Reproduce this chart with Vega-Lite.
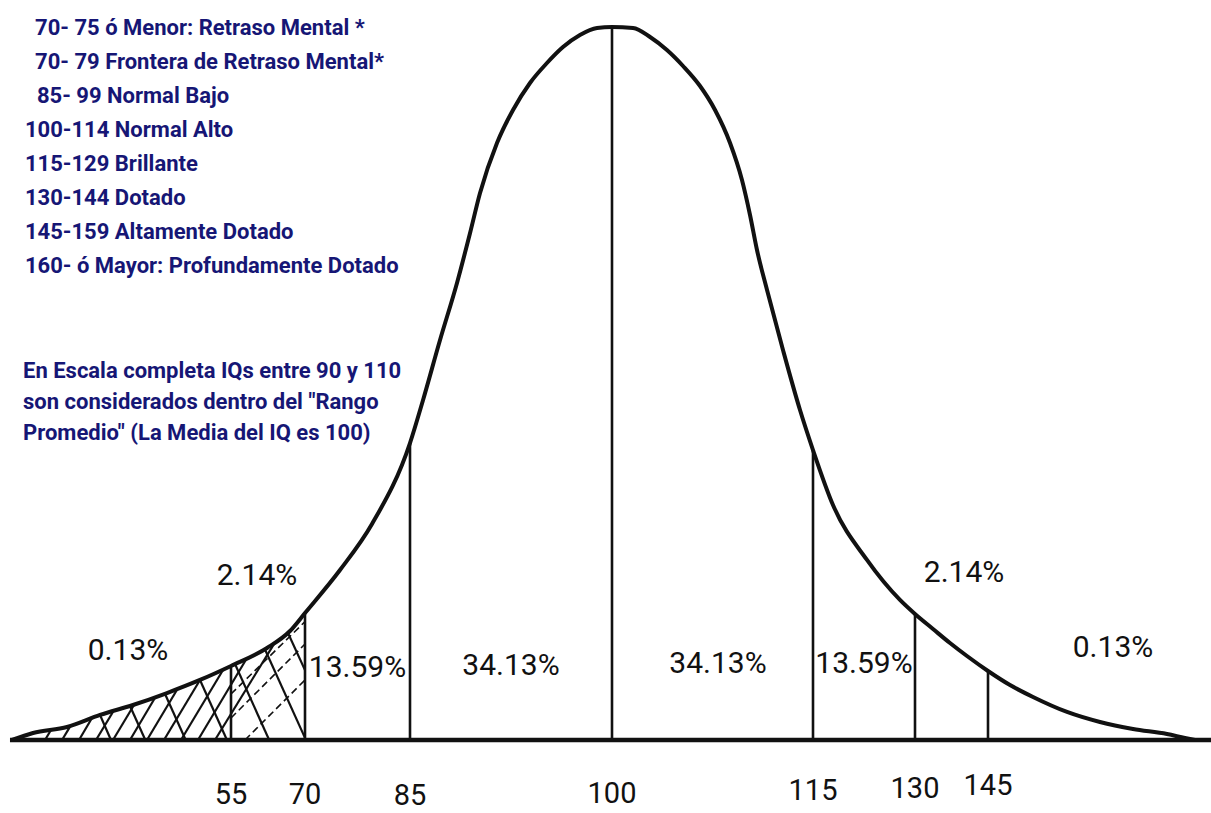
{
  "$schema": "https://vega.github.io/schema/vega-lite/v6.json",
  "width": 1211,
  "height": 813,
  "autosize": {"type": "none"},
  "padding": 0,
  "background": "white",
  "config": {"view": {"stroke": null}},
  "datasets": {
    "curva": [
      {"iq": 30, "h": 0}, {"iq": 32.4, "h": 0.98}, {"iq": 36.28, "h": 1.82}, {"iq": 40.05, "h": 3.51},
      {"iq": 43.81, "h": 4.91}, {"iq": 47.69, "h": 6.59}, {"iq": 51.46, "h": 8.42}, {"iq": 55, "h": 10.38},
      {"iq": 62.3, "h": 12.9}, {"iq": 66.96, "h": 15.29}, {"iq": 70, "h": 17.81}, {"iq": 75, "h": 23.84},
      {"iq": 79.57, "h": 30.29}, {"iq": 85, "h": 41.65}, {"iq": 85.97, "h": 47.69}, {"iq": 87.23, "h": 56.1},
      {"iq": 88.49, "h": 64.1}, {"iq": 89.46, "h": 71.11}, {"iq": 90.2, "h": 76.72}, {"iq": 91.46, "h": 83.73},
      {"iq": 92.65, "h": 88.36}, {"iq": 93.91, "h": 92.15}, {"iq": 95.17, "h": 94.95}, {"iq": 96.36, "h": 97.19},
      {"iq": 97.62, "h": 98.88}, {"iq": 98.89, "h": 99.86}, {"iq": 100, "h": 100},
      {"iq": 101.57, "h": 99.86}, {"iq": 102.84, "h": 98.6}, {"iq": 104.1, "h": 96.77}, {"iq": 105.3, "h": 94.53},
      {"iq": 106.57, "h": 91.72}, {"iq": 107.69, "h": 88.36}, {"iq": 108.81, "h": 83.73}, {"iq": 109.7, "h": 78.54},
      {"iq": 110.3, "h": 73.63}, {"iq": 110.82, "h": 68.72}, {"iq": 111.57, "h": 63.11}, {"iq": 112.76, "h": 54.7},
      {"iq": 114.03, "h": 46.28}, {"iq": 115, "h": 40.67}, {"iq": 117.94, "h": 32.96}, {"iq": 122.94, "h": 25.25},
      {"iq": 127.79, "h": 19.64}, {"iq": 130, "h": 17.67}, {"iq": 133.7, "h": 15.57}, {"iq": 137.19, "h": 13.6},
      {"iq": 140.68, "h": 11.78}, {"iq": 145, "h": 9.68}, {"iq": 147.72, "h": 7.71}, {"iq": 150.57, "h": 6.03},
      {"iq": 154.78, "h": 3.93}, {"iq": 158.86, "h": 2.52}, {"iq": 162.95, "h": 1.54}, {"iq": 167.15, "h": 0.84},
      {"iq": 169.38, "h": 0.28}, {"iq": 170.62, "h": 0}
    ],
    "divisiones": [
      {"iq": 55, "b": 0, "h": 10.38}, {"iq": 70, "b": 0, "h": 17.81}, {"iq": 85, "b": 0, "h": 41.65}, {"iq": 100, "b": 0, "h": 100},
      {"iq": 115, "b": 0, "h": 40.67}, {"iq": 130, "b": 0, "h": 17.67}, {"iq": 145, "b": 0, "h": 9.68}
    ],
    "base": [{"x0": 29.77, "x1": 172.6, "y": 0}],
    "tramaA": [
      {"x0": 33.77, "y0": 0, "x1": 34.45, "y1": 1.4},
      {"x0": 35.71, "y0": 0, "x1": 36.68, "y1": 1.99},
      {"x0": 37.65, "y0": 0, "x1": 39.13, "y1": 3.09},
      {"x0": 39.59, "y0": 0, "x1": 41.59, "y1": 4.07},
      {"x0": 41.53, "y0": 0, "x1": 43.93, "y1": 4.91},
      {"x0": 43.47, "y0": 0, "x1": 46.38, "y1": 6.03},
      {"x0": 45.41, "y0": 0, "x1": 48.89, "y1": 7.15},
      {"x0": 47.35, "y0": 0, "x1": 51.46, "y1": 8.42},
      {"x0": 49.29, "y0": 0, "x1": 54.09, "y1": 9.82},
      {"x0": 51.23, "y0": 0, "x1": 58.24, "y1": 11.5},
      {"x0": 53.17, "y0": 0, "x1": 63.92, "y1": 13.7}
    ],
    "tramaB": [
      {"x0": 40.05, "y0": 3.51, "x1": 41.3, "y1": 0},
      {"x0": 43.47, "y0": 4.77, "x1": 45.22, "y1": 0},
      {"x0": 47.47, "y0": 6.45, "x1": 49.83, "y1": 0},
      {"x0": 51.46, "y0": 8.42, "x1": 54.54, "y1": 0},
      {"x0": 55.81, "y0": 10.66, "x1": 62.74, "y1": 0},
      {"x0": 61.89, "y0": 12.7, "x1": 70, "y1": 0.3},
      {"x0": 66.55, "y0": 15.0, "x1": 70, "y1": 9.8}
    ],
    "tramaC": [
      {"x0": 57.84, "y0": 0, "x1": 70, "y1": 8.42},
      {"x0": 55, "y0": 3.09, "x1": 70, "y1": 13.46},
      {"x0": 55, "y0": 6.45, "x1": 70, "y1": 16.6}
    ],
    "marcas": [
      {"iq": 55, "y": -8.98, "t": "55"},
      {"iq": 70, "y": -8.98, "t": "70"},
      {"iq": 85, "y": -9.1, "t": "85"},
      {"iq": 100, "y": -8.9, "t": "100"},
      {"iq": 115, "y": -8.42, "t": "115"},
      {"iq": 130, "y": -8.13, "t": "130"},
      {"iq": 145, "y": -7.71, "t": "145"}
    ],
    "porcentajes": [
      {"x": 43.24, "y": 11.22, "t": "0.13%"},
      {"x": 60.27, "y": 21.74, "t": "2.14%"},
      {"x": 77.5, "y": 8.84, "t": "13.59%"},
      {"x": 92.5, "y": 9.12, "t": "34.13%"},
      {"x": 107.91, "y": 9.4, "t": "34.13%"},
      {"x": 122.5, "y": 9.4, "t": "13.59%"},
      {"x": 140.07, "y": 22.16, "t": "2.14%"},
      {"x": 160.47, "y": 11.64, "t": "0.13%"}
    ],
    "leyenda": [
      {"x": 32.63, "y": 98.88, "t": "70-  75 ó Menor: Retraso Mental *"},
      {"x": 32.63, "y": 94.11, "t": "70-  79 Frontera de Retraso Mental*"},
      {"x": 32.85, "y": 89.34, "t": "85-  99 Normal Bajo"},
      {"x": 31.48, "y": 84.57, "t": "100-114 Normal Alto"},
      {"x": 31.48, "y": 79.8, "t": "115-129 Brillante"},
      {"x": 31.48, "y": 75.04, "t": "130-144 Dotado"},
      {"x": 31.48, "y": 70.27, "t": "145-159 Altamente Dotado"},
      {"x": 31.48, "y": 65.5, "t": "160- ó Mayor: Profundamente Dotado"},
      {"x": 31.26, "y": 50.77, "t": "En Escala completa IQs entre 90 y 110"},
      {"x": 31.26, "y": 46.42, "t": "son considerados dentro del \"Rango"},
      {"x": 31.26, "y": 42.08, "t": "Promedio\" (La Media del IQ es 100)"}
    ]
  },
  "layer": [
    {
      "data": {"name": "curva"},
      "mark": {"type": "line", "color": "#111111", "strokeWidth": 4, "interpolate": "monotone"},
      "encoding": {
        "x": {"field": "iq", "type": "quantitative",
          "scale": {"type": "linear", "domain": [30, 55, 70, 85, 100, 115, 130, 145, 170], "range": [12, 231, 305, 410, 612, 813, 915, 988, 1190], "nice": false, "zero": false},
          "axis": null},
        "y": {"field": "h", "type": "quantitative", "scale": {"type": "linear", "domain": [0, 100], "range": [740, 27], "nice": false, "zero": false}, "axis": null}
      }
    },
    {
      "data": {"name": "base"},
      "mark": {"type": "rule", "color": "#111111", "strokeWidth": 4.5},
      "encoding": {
        "x": {"field": "x0", "type": "quantitative", "axis": null},
        "x2": {"field": "x1"},
        "y": {"field": "y", "type": "quantitative", "axis": null}
      }
    },
    {
      "data": {"name": "tramaA"},
      "mark": {"type": "rule", "color": "#111111", "strokeWidth": 2.2},
      "encoding": {
        "x": {"field": "x0", "type": "quantitative", "axis": null},
        "x2": {"field": "x1"},
        "y": {"field": "y0", "type": "quantitative", "axis": null},
        "y2": {"field": "y1"}
      }
    },
    {
      "data": {"name": "tramaB"},
      "mark": {"type": "rule", "color": "#111111", "strokeWidth": 2.2},
      "encoding": {
        "x": {"field": "x0", "type": "quantitative", "axis": null},
        "x2": {"field": "x1"},
        "y": {"field": "y0", "type": "quantitative", "axis": null},
        "y2": {"field": "y1"}
      }
    },
    {
      "data": {"name": "tramaC"},
      "mark": {"type": "rule", "color": "#111111", "strokeWidth": 1.6, "strokeDash": [7, 4]},
      "encoding": {
        "x": {"field": "x0", "type": "quantitative", "axis": null},
        "x2": {"field": "x1"},
        "y": {"field": "y0", "type": "quantitative", "axis": null},
        "y2": {"field": "y1"}
      }
    },
    {
      "data": {"name": "divisiones"},
      "mark": {"type": "rule", "color": "#111111", "strokeWidth": 2.6},
      "encoding": {
        "x": {"field": "iq", "type": "quantitative", "axis": null},
        "y": {"field": "b", "type": "quantitative", "axis": null},
        "y2": {"field": "h"}
      }
    },
    {
      "data": {"name": "marcas"},
      "mark": {"type": "text", "font": "Roboto, sans-serif", "fontSize": 29, "color": "#111111", "align": "center", "baseline": "alphabetic"},
      "encoding": {
        "x": {"field": "iq", "type": "quantitative", "axis": null},
        "y": {"field": "y", "type": "quantitative", "axis": null},
        "text": {"field": "t", "type": "nominal"}
      }
    },
    {
      "data": {"name": "porcentajes"},
      "mark": {"type": "text", "font": "Roboto, sans-serif", "fontSize": 30, "color": "#111111", "align": "center", "baseline": "alphabetic"},
      "encoding": {
        "x": {"field": "x", "type": "quantitative", "axis": null},
        "y": {"field": "y", "type": "quantitative", "axis": null},
        "text": {"field": "t", "type": "nominal"}
      }
    },
    {
      "data": {"name": "leyenda"},
      "mark": {"type": "text", "font": "Roboto, sans-serif", "fontWeight": "bold", "fontSize": 22, "color": "#161675", "align": "left", "baseline": "alphabetic"},
      "encoding": {
        "x": {"field": "x", "type": "quantitative", "axis": null},
        "y": {"field": "y", "type": "quantitative", "axis": null},
        "text": {"field": "t", "type": "nominal"}
      }
    }
  ]
}
